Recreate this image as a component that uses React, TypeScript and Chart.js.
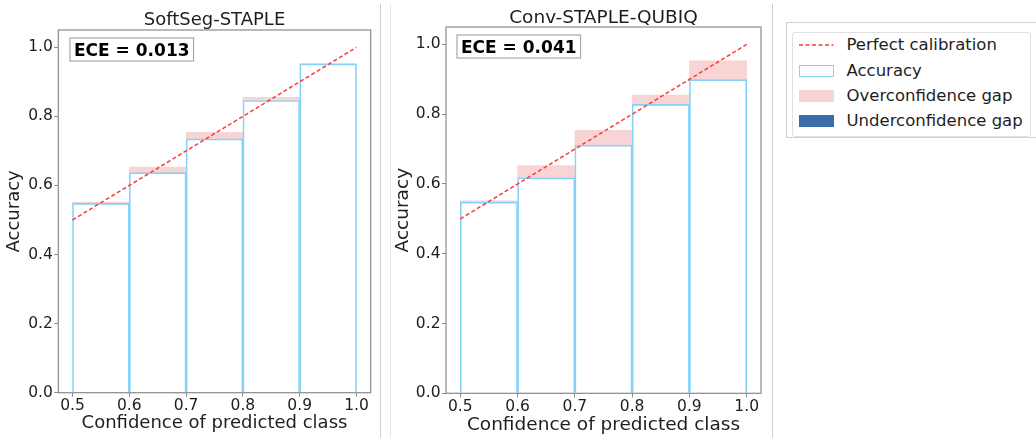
import React, { useEffect, useRef } from "react";
import { Chart, registerables } from "chart.js";

Chart.register(...registerables);

// ---------------- data ----------------
const binCenters = [0.55, 0.65, 0.75, 0.85, 0.95];
const binConfidence = [0.552, 0.653, 0.754, 0.855, 0.953];
const softsegAccuracy = [0.548, 0.637, 0.735, 0.846, 0.952];
const convAccuracy = [0.548, 0.618, 0.711, 0.828, 0.899];
const softsegECE = "0.013";
const convECE = "0.041";
const diagonalX = [0.5, 1.0];
const diagonalY = [0.5, 1.0];
const xTicks = [0.5, 0.6, 0.7, 0.8, 0.9, 1.0];
const yTicks = [0.0, 0.2, 0.4, 0.6, 0.8, 1.0];
const panelTitles = ["SoftSeg-STAPLE", "Conv-STAPLE-QUBIQ"];
const legendLabels = ["Perfect calibration", "Accuracy", "Overconfidence gap", "Underconfidence gap"];
const xAxisTitle = "Confidence of predicted class";
const yAxisTitle = "Accuracy";

// ---------------- styles ----------------
const FONT = '"DejaVu Sans", "Liberation Sans", sans-serif';
const TEXT = "#1e1e1e";
const FRAME = "#8a8a8a";
const ACC_EDGE = "#86d2f7";
const OVER = "#f8d4d4";
const UNDER = "#3a6ea8";
const DIAG = "#ff3838";

type Spec = {
  left: number;
  width: number;
  title: string;
  acc: number[];
  ece: string;
  padTop: number;
  padRight: number;
  yAxisW: number;
  xAxisH: number;
  titleBaseline: number;
  titleSize: number;
  labelSize: number;
  yTitlePad: number;
  xTitlePad: number;
  eceDx: number;
  eceDy: number;
};

const panelPlugin = {
  id: "panelDecor",
  afterDatasetsDraw(chart: any, _args: any, opts: any) {
    const { ctx, chartArea: a } = chart;
    ctx.save();
    // frame
    ctx.strokeStyle = FRAME;
    ctx.lineWidth = 1.2;
    ctx.strokeRect(a.left, a.top, a.right - a.left, a.bottom - a.top);
    // ECE box
    ctx.font = `bold 17px ${FONT}`;
    const text = `ECE = ${opts.ece}`;
    const w = ctx.measureText(text).width;
    const padX = 4;
    const h = 23;
    const bx = a.left + opts.dx;
    const by = a.top + opts.dy;
    ctx.fillStyle = "rgba(255,255,255,0.95)";
    ctx.fillRect(bx, by, w + 2 * padX, h);
    ctx.strokeStyle = "#a8a8a8";
    ctx.lineWidth = 1.2;
    ctx.strokeRect(bx, by, w + 2 * padX, h);
    ctx.fillStyle = "#000";
    ctx.textAlign = "left";
    ctx.textBaseline = "alphabetic";
    ctx.fillText(text, bx + padX, by + h / 2 + 6);
    // title
    ctx.font = `${opts.titleSize}px ${FONT}`;
    ctx.fillStyle = TEXT;
    ctx.textAlign = "center";
    ctx.fillText(opts.title, (a.left + a.right) / 2, opts.titleBaseline);
    ctx.restore();
  },
};

function buildConfig(spec: Spec): any {
  const over = binCenters
    .map((x, i) => ({ x, lo: spec.acc[i], hi: binConfidence[i] }))
    .filter((d) => d.hi > d.lo)
    .map((d) => ({ x: d.x, y: [d.lo, d.hi] }));
  const under = binCenters
    .map((x, i) => ({ x, lo: binConfidence[i], hi: spec.acc[i] }))
    .filter((d) => d.hi > d.lo)
    .map((d) => ({ x: d.x, y: [d.lo, d.hi] }));
  const barCommon = {
    grouped: false,
    barPercentage: 1,
    categoryPercentage: 1,
  };
  return {
    type: "bar",
    data: {
      datasets: [
        {
          type: "line",
          label: legendLabels[0],
          data: diagonalX.map((x, i) => ({ x, y: diagonalY[i] })),
          borderColor: DIAG,
          borderWidth: 1.5,
          borderDash: [4, 2.5],
          pointRadius: 0,
          fill: false,
          tension: 0,
          order: 0,
        },
        {
          ...barCommon,
          label: legendLabels[1],
          data: binCenters.map((x, i) => ({ x, y: spec.acc[i] })),
          backgroundColor: "rgba(255,255,255,0)",
          borderColor: ACC_EDGE,
          borderWidth: 1,
          borderSkipped: "start",
          order: 1,
        },
        {
          ...barCommon,
          label: legendLabels[2],
          data: over,
          backgroundColor: OVER,
          borderWidth: 0,
          borderSkipped: false,
          order: 2,
        },
        {
          ...barCommon,
          label: legendLabels[3],
          data: under,
          backgroundColor: UNDER,
          borderWidth: 0,
          borderSkipped: false,
          order: 3,
        },
      ],
    },
    options: {
      responsive: false,
      animation: false,
      events: [],
      layout: { padding: { top: spec.padTop, right: spec.padRight, left: 0, bottom: 0 } },
      plugins: {
        legend: { display: false },
        tooltip: { enabled: false },
        title: { display: false },
        panelDecor: {
          ece: spec.ece,
          dx: spec.eceDx,
          dy: spec.eceDy,
          title: spec.title,
          titleBaseline: spec.titleBaseline,
          titleSize: spec.titleSize,
        },
      },
      scales: {
        x: {
          type: "linear",
          min: 0.475,
          max: 1.025,
          offset: false,
          afterBuildTicks: (s: any) => {
            s.ticks = xTicks.map((v) => ({ value: v }));
          },
          afterFit: (s: any) => {
            s.height = spec.xAxisH;
          },
          grid: {
            display: true,
            drawOnChartArea: false,
            drawTicks: true,
            tickLength: 4,
            color: FRAME,
            offset: false,
          },
          border: { display: false },
          ticks: {
            autoSkip: false,
            maxRotation: 0,
            padding: 0,
            color: TEXT,
            font: { family: FONT, size: 15.5 },
            callback: (v: any) => Number(v).toFixed(1),
          },
          title: {
            display: true,
            text: xAxisTitle,
            color: TEXT,
            font: { family: FONT, size: spec.labelSize },
            padding: { top: 0, bottom: spec.xTitlePad },
          },
        },
        y: {
          type: "linear",
          min: 0,
          max: 1.05,
          afterBuildTicks: (s: any) => {
            s.ticks = yTicks.map((v) => ({ value: v }));
          },
          afterFit: (s: any) => {
            s.width = spec.yAxisW;
          },
          grid: {
            display: true,
            drawOnChartArea: false,
            drawTicks: true,
            tickLength: 4,
            color: FRAME,
          },
          border: { display: false },
          ticks: {
            autoSkip: false,
            padding: 1.5,
            color: TEXT,
            font: { family: FONT, size: 15.5 },
            callback: (v: any) => Number(v).toFixed(1),
          },
          title: {
            display: true,
            text: yAxisTitle,
            color: TEXT,
            font: { family: FONT, size: spec.labelSize },
            padding: { top: spec.yTitlePad, bottom: 0 },
          },
        },
      },
    },
    plugins: [panelPlugin],
  };
}

function CalibrationPanel({ spec }: { spec: Spec }) {
  const ref = useRef<HTMLCanvasElement>(null);
  useEffect(() => {
    const chart = new Chart(ref.current as HTMLCanvasElement, buildConfig(spec));
    return () => chart.destroy();
  }, []);
  return (
    <canvas
      ref={ref}
      width={spec.width}
      height={438}
      style={{ position: "absolute", left: spec.left, top: 0, width: spec.width, height: 438 }}
    />
  );
}

const leftSpec: Spec = {
  left: 0,
  width: 380,
  title: panelTitles[0],
  acc: softsegAccuracy,
  ece: softsegECE,
  padTop: 30,
  padRight: 9.3,
  yAxisW: 58.3,
  xAxisH: 45.3,
  titleBaseline: 25,
  titleSize: 18,
  labelSize: 18,
  yTitlePad: 4,
  xTitlePad: 3.9,
  eceDx: 11.7,
  eceDy: 8,
};

const rightSpec: Spec = {
  left: 390,
  width: 382,
  title: panelTitles[1],
  acc: convAccuracy,
  ece: convECE,
  padTop: 27,
  padRight: 11,
  yAxisW: 56,
  xAxisH: 44.7,
  titleBaseline: 22.7,
  titleSize: 18.5,
  labelSize: 18.5,
  yTitlePad: 1.8,
  xTitlePad: 2.2,
  eceDx: 11,
  eceDy: 8,
};

function Legend() {
  const rows = [12.8, 38.5, 63.5, 88.5];
  const handle = (i: number) => {
    const base: React.CSSProperties = { position: "absolute", left: 6.3, width: 34.5 };
    if (i === 0)
      return (
        <svg style={{ ...base, top: rows[0] - 2, height: 4 }} width={34.5} height={4}>
          <line x1={0} y1={2} x2={34.5} y2={2} stroke={DIAG} strokeWidth={1.5} strokeDasharray="4 2.5" />
        </svg>
      );
    if (i === 1)
      return (
        <div
          style={{
            ...base,
            top: rows[1] - 6,
            height: 12,
            boxSizing: "border-box",
            border: `1.5px solid ${ACC_EDGE}`,
            background: "#fff",
          }}
        />
      );
    return (
      <div
        style={{
          ...base,
          top: rows[i] - 6,
          height: 12,
          background: i === 2 ? OVER : UNDER,
        }}
      />
    );
  };
  return (
    <>
      <div
        style={{
          position: "absolute",
          left: 785.5,
          top: 21.5,
          width: 260,
          height: 116.5,
          border: "1px solid #d2d2d2",
          boxSizing: "border-box",
        }}
      />
      <div
        style={{
          position: "absolute",
          left: 792,
          top: 31.5,
          width: 238.5,
          height: 105.5,
          border: "1px solid #e0e0e0",
          borderRadius: 3,
          boxSizing: "border-box",
          background: "#fff",
        }}
      >
        {legendLabels.map((lab, i) => (
          <React.Fragment key={lab}>
            {handle(i)}
            <div
              style={{
                position: "absolute",
                left: 53.5,
                top: rows[i] - 10,
                height: 20,
                lineHeight: "20px",
                fontFamily: FONT,
                fontSize: 16.5,
                color: TEXT,
                whiteSpace: "nowrap",
              }}
            >
              {lab}
            </div>
          </React.Fragment>
        ))}
      </div>
    </>
  );
}

export default function App() {
  const sep = (x: number, c: string) => (
    <div style={{ position: "absolute", left: x, top: 4, width: 1, height: 434, background: c }} />
  );
  return (
    <div
      style={{
        position: "fixed",
        left: 0,
        top: 0,
        width: 1036,
        height: 438,
        background: "#fff",
        overflow: "hidden",
      }}
    >
      {sep(380, "#cfcfcf")}
      {sep(390, "#e6e6e6")}
      {sep(772, "#d0d0d0")}
      <CalibrationPanel spec={leftSpec} />
      <CalibrationPanel spec={rightSpec} />
      <Legend />
    </div>
  );
}
